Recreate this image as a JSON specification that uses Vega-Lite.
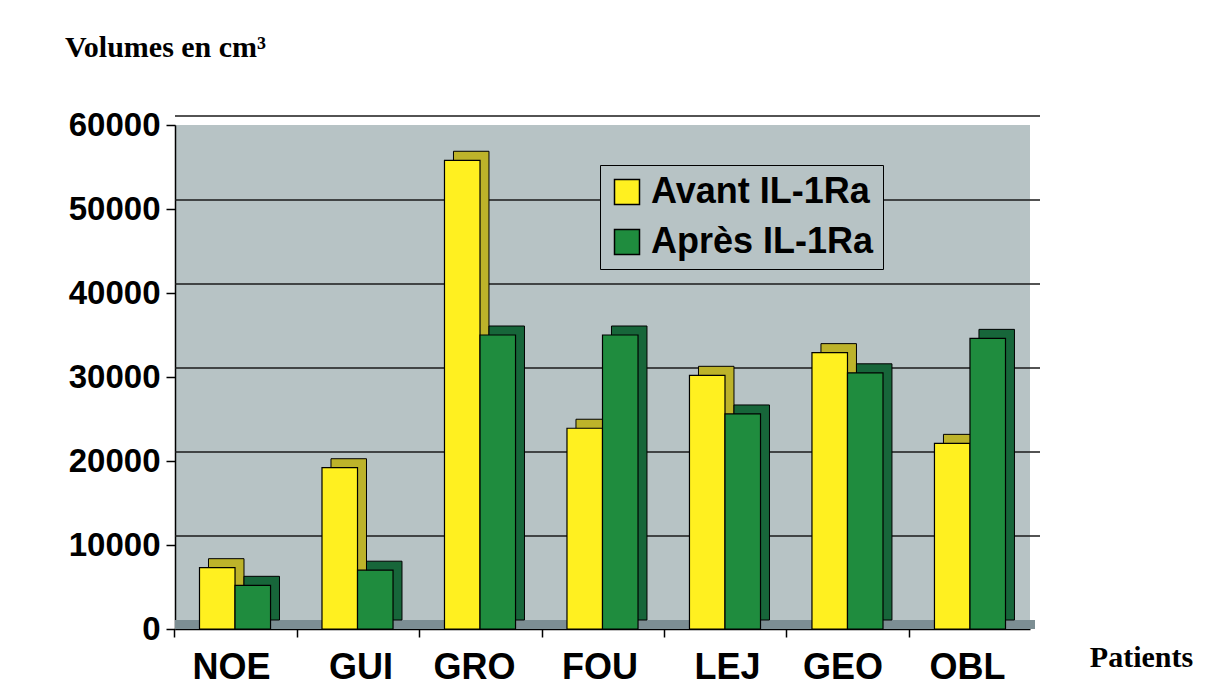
{
  "$schema": "https://vega.github.io/schema/vega-lite/v6.json",
  "width": 855,
  "height": 504,
  "autosize": {"type": "none"},
  "padding": {"left": 175, "top": 125, "right": 191, "bottom": 61},
  "background": "white",
  "config": {
    "view": {"fill": "#b7c3c5", "stroke": null},
    "font": "Liberation Sans"
  },
  "datasets": {
    "bars": [
      {"patient": "NOE", "serie": "Avant IL-1Ra", "volume": 7300},
      {"patient": "NOE", "serie": "Après IL-1Ra", "volume": 5200},
      {"patient": "GUI", "serie": "Avant IL-1Ra", "volume": 19200},
      {"patient": "GUI", "serie": "Après IL-1Ra", "volume": 7000},
      {"patient": "GRO", "serie": "Avant IL-1Ra", "volume": 55800},
      {"patient": "GRO", "serie": "Après IL-1Ra", "volume": 35000},
      {"patient": "FOU", "serie": "Avant IL-1Ra", "volume": 23900},
      {"patient": "FOU", "serie": "Après IL-1Ra", "volume": 35000},
      {"patient": "LEJ", "serie": "Avant IL-1Ra", "volume": 30200},
      {"patient": "LEJ", "serie": "Après IL-1Ra", "volume": 25600},
      {"patient": "GEO", "serie": "Avant IL-1Ra", "volume": 32900},
      {"patient": "GEO", "serie": "Après IL-1Ra", "volume": 30500},
      {"patient": "OBL", "serie": "Avant IL-1Ra", "volume": 22100},
      {"patient": "OBL", "serie": "Après IL-1Ra", "volume": 34600}
    ],
    "grid": [{"v": 10000}, {"v": 20000}, {"v": 30000}, {"v": 40000}, {"v": 50000}, {"v": 60000}],
    "floor": [{"v": 0}]
  },
  "resolve": {"scale": {"color": "independent", "xOffset": "independent"}, "legend": {"color": "independent"}},
  "layer": [
    {
      "data": {"name": "floor"},
      "mark": {"type": "rule", "color": "#7c8e93", "strokeWidth": 9, "xOffset": 5, "yOffset": -4.5},
      "encoding": {
        "y": {"field": "v", "type": "quantitative", "scale": {"domain": [0, 60000]}}
      }
    },
    {
      "data": {"name": "grid"},
      "mark": {"type": "rule", "color": "#1a1a1a", "strokeWidth": 1.5, "xOffset": 10, "yOffset": -9},
      "encoding": {
        "y": {"field": "v", "type": "quantitative"}
      }
    },
    {
      "data": {"name": "bars"},
      "mark": {"type": "bar", "yOffset": -9, "stroke": "black", "strokeWidth": 1},
      "encoding": {
        "x": {"field": "patient", "type": "nominal", "sort": ["NOE", "GUI", "GRO", "FOU", "LEJ", "GEO", "OBL"], "scale": {"paddingInner": 0.42, "paddingOuter": 0.2}},
        "xOffset": {"field": "serie", "type": "nominal", "sort": ["Avant IL-1Ra", "Après IL-1Ra"], "scale": {"range": [9, 80]}},
        "y": {"field": "volume", "type": "quantitative"},
        "color": {"field": "serie", "type": "nominal", "scale": {"domain": ["Avant IL-1Ra", "Après IL-1Ra"], "range": ["#bdb32a", "#17663a"]}, "legend": null}
      }
    },
    {
      "data": {"name": "bars"},
      "mark": {"type": "bar", "stroke": "black", "strokeWidth": 1.2},
      "encoding": {
        "x": {
          "field": "patient", "type": "nominal", "sort": ["NOE", "GUI", "GRO", "FOU", "LEJ", "GEO", "OBL"],
          "axis": {
            "title": "Patients", "titleFont": "Liberation Serif", "titleFontSize": 30, "titleFontWeight": "bold", "titleColor": "black",
            "titleX": 966, "titleY": 28, "titleAlign": "center", "titleBaseline": "middle",
            "labelAngle": 0, "labelFontSize": 36, "labelFontWeight": "bold", "labelColor": "black", "labelPadding": 30,
            "labelOffset": 96, "tickOffset": -61,
            "tickSize": 8, "tickColor": "black", "tickWidth": 1.5,
            "domainColor": "black", "domainWidth": 1.5
          }
        },
        "xOffset": {"field": "serie", "type": "nominal", "sort": ["Avant IL-1Ra", "Après IL-1Ra"]},
        "y": {
          "field": "volume", "type": "quantitative",
          "axis": {
            "title": "Volumes en cm³", "titleFont": "Liberation Serif", "titleFontSize": 30, "titleFontWeight": "bold", "titleColor": "black",
            "titleAngle": 0, "titleX": -10, "titleY": -78, "titleAlign": "center", "titleBaseline": "middle",
            "values": [0, 10000, 20000, 30000, 40000, 50000, 60000], "format": "d",
            "labelFontSize": 33, "labelFontWeight": "bold", "labelColor": "black", "labelPadding": 6,
            "tickSize": 9, "tickColor": "black", "tickWidth": 1.5, "grid": false,
            "domainColor": "black", "domainWidth": 1.5
          }
        },
        "color": {
          "field": "serie", "type": "nominal",
          "scale": {"domain": ["Avant IL-1Ra", "Après IL-1Ra"], "range": ["#fff020", "#1f8c3e"]},
          "legend": {
            "title": null, "orient": "none", "legendX": 425, "legendY": 40, "direction": "vertical",
            "symbolType": "square", "symbolSize": 625, "symbolStrokeColor": "black", "symbolStrokeWidth": 1.5, "symbolOpacity": 1,
            "labelFontSize": 36, "labelFontWeight": "bold", "labelColor": "black", "labelLimit": 400, "labelOffset": 6,
            "rowPadding": 14, "padding": 9, "strokeColor": "black", "fillColor": "#b7c3c5"
          }
        }
      }
    }
  ]
}
